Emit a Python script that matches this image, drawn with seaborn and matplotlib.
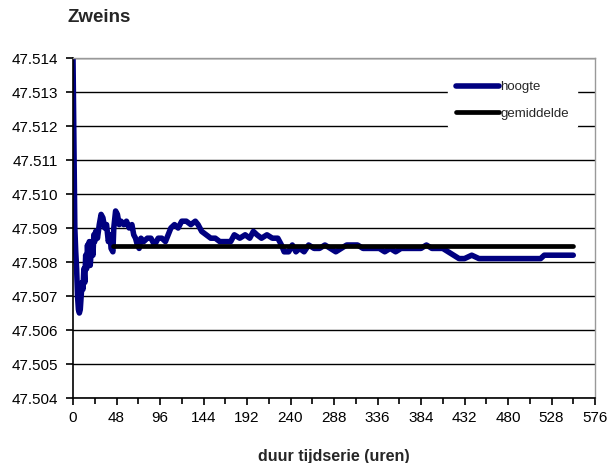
import numpy as np
import pandas as pd
import seaborn as sns
import matplotlib
import matplotlib.pyplot as plt
from matplotlib.ticker import MultipleLocator, FormatStrFormatter

matplotlib.use('Agg')

# Data
uren = [0, 1, 2, 3, 4, 5, 6, 7, 8, 9, 10, 11, 12, 13, 14, 15, 16, 17, 18, 19,
        20, 21, 22, 23, 24, 25, 27, 29, 31, 33, 35, 37, 39, 41, 42, 44, 45, 47,
        49, 51, 53, 56, 59, 62, 65, 67, 69, 71, 73, 75, 78, 82, 86, 90, 94, 98,
        102, 105, 108, 112, 116, 120, 125, 130, 135, 138, 142, 147, 152, 157,
        162, 168, 174, 178, 184, 190, 195, 199, 203, 208, 214, 220, 226, 230,
        233, 238, 242, 246, 250, 255, 260, 266, 272, 278, 284, 290, 296, 302,
        308, 314, 320, 326, 332, 338, 344, 350, 356, 362, 370, 378, 384, 390,
        396, 402, 408, 414, 420, 426, 432, 440, 448, 456, 464, 472, 480, 490,
        500, 510, 516, 520, 530, 540, 552]
hoogte = [47.5140, 47.5115, 47.5090, 47.5083, 47.5078, 47.5070, 47.5066, 47.5065,
          47.5066, 47.5070, 47.5074, 47.5072, 47.5078, 47.5074, 47.5082, 47.5078,
          47.5085, 47.5080, 47.5086, 47.5079, 47.5083, 47.5086, 47.5082, 47.5088,
          47.5086, 47.5089, 47.5087, 47.5091, 47.5094, 47.5093, 47.5090, 47.5091,
          47.5086, 47.5088, 47.5084, 47.5083, 47.5090, 47.5095, 47.5094, 47.5091,
          47.5092, 47.5091, 47.5092, 47.5090, 47.5091, 47.5088, 47.5087, 47.5085,
          47.5084, 47.5087, 47.5086, 47.5087, 47.5087, 47.5085, 47.5087, 47.5087,
          47.5086, 47.5088, 47.5090, 47.5091, 47.5090, 47.5092, 47.5092, 47.5091,
          47.5092, 47.5091, 47.5089, 47.5088, 47.5087, 47.5087, 47.5086, 47.5086,
          47.5086, 47.5088, 47.5087, 47.5088, 47.5087, 47.5089, 47.5088, 47.5087,
          47.5088, 47.5087, 47.5087, 47.5085, 47.5083, 47.5083, 47.5085, 47.5083,
          47.5084, 47.5083, 47.5085, 47.5084, 47.5084, 47.5085, 47.5084, 47.5083,
          47.5084, 47.5085, 47.5085, 47.5085, 47.5084, 47.5084, 47.5084, 47.5084,
          47.5083, 47.5084, 47.5083, 47.5084, 47.5084, 47.5084, 47.5084, 47.5085,
          47.5084, 47.5084, 47.5084, 47.5083, 47.5082, 47.5081, 47.5081, 47.5082,
          47.5081, 47.5081, 47.5081, 47.5081, 47.5081, 47.5081, 47.5081, 47.5081,
          47.5081, 47.5082, 47.5082, 47.5082, 47.5082]

gem_uren = [44, 552]
gem_waarde = 47.50848

x_ticks = [0, 48, 96, 144, 192, 240, 288, 336, 384, 432, 480, 528, 576]
y_ticks = [47.504, 47.505, 47.506, 47.507, 47.508, 47.509, 47.510,
           47.511, 47.512, 47.513, 47.514]

df = pd.DataFrame({'uren': uren, 'hoogte': hoogte})
gem = pd.DataFrame({'uren': gem_uren, 'gemiddelde': [gem_waarde] * len(gem_uren)})

sns.set_style('white')
plt.rcParams['font.family'] = ['Liberation Sans', 'DejaVu Sans']

fig = plt.figure(figsize=(6.13, 4.63), dpi=100)
ax = fig.add_axes([73 / 613, 1 - 398 / 463, (595 - 73) / 613, (398 - 58) / 463])

sns.lineplot(data=gem, x='uren', y='gemiddelde', ax=ax, color='black', lw=3.4,
             label='gemiddelde', zorder=3)
sns.lineplot(data=df, x='uren', y='hoogte', ax=ax, color='#000080', lw=4.0,
             label='hoogte', zorder=2)

ax.set_xlim(x_ticks[0], x_ticks[-1])
ax.set_ylim(y_ticks[0], y_ticks[-1])
ax.set_xticks(x_ticks)
ax.set_yticks(y_ticks)
ax.xaxis.set_minor_locator(MultipleLocator(24))
ax.yaxis.set_major_formatter(FormatStrFormatter('%.3f'))
ax.grid(axis='y', color='black', lw=1.0)
ax.set_axisbelow(True)

ax.tick_params(axis='both', which='both', direction='out', labelsize=11,
               colors='black', length=5, width=1.2, bottom=True, left=True)
ax.tick_params(axis='x', which='minor', length=4)
ax.tick_params(axis='x', pad=4)
ax.tick_params(axis='y', pad=6)

for side in ['left', 'bottom']:
    ax.spines[side].set_color('black')
    ax.spines[side].set_linewidth(1.2)
for side in ['top', 'right']:
    ax.spines[side].set_color('#999999')
    ax.spines[side].set_linewidth(1.0)

ax.set_xlabel('duur tijdserie (uren)', fontsize=11.5, fontweight='bold', labelpad=18)
ax.set_ylabel('')

handles, labels = ax.get_legend_handles_labels()
leg = ax.legend(handles[::-1], labels[::-1], loc='upper left',
                bbox_to_anchor=(0.705, 0.975), fontsize=9.5, frameon=True,
                handlelength=3.3, handletextpad=0.1, labelspacing=1.1,
                borderpad=0.6)
leg.get_frame().set_facecolor('white')
leg.get_frame().set_edgecolor('white')
leg.get_frame().set_alpha(1)

fig.text(68 / 613, 1 - 18 / 463, 'Zweins', fontsize=13.5, fontweight='bold',
         va='center', ha='left')

fig.savefig('out.png', dpi=100)
